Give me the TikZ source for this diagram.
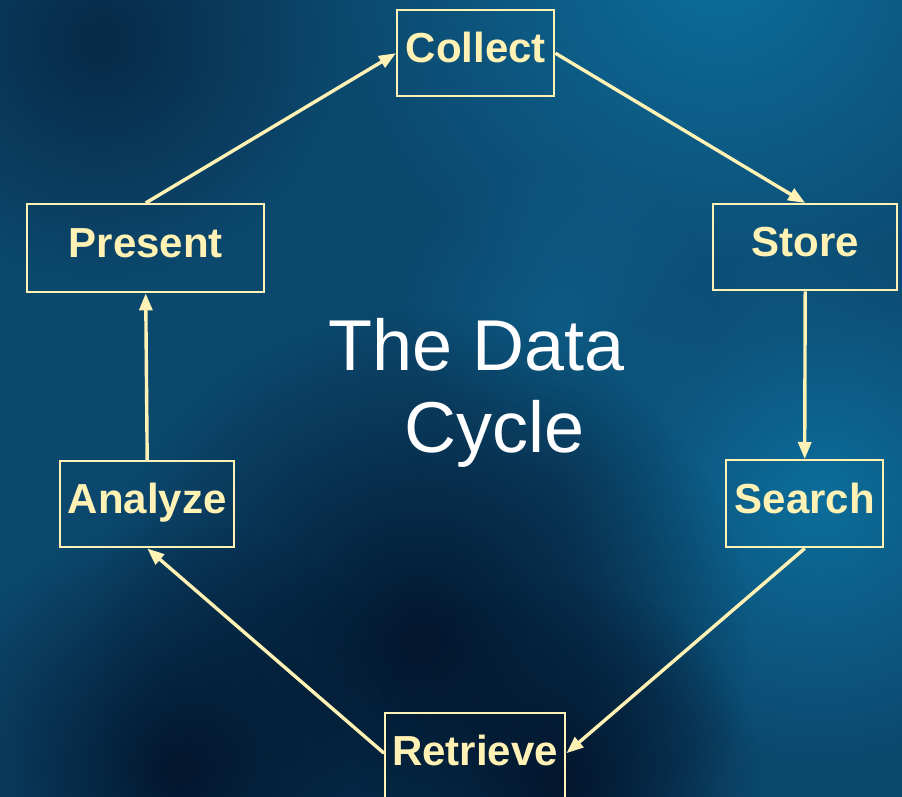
\documentclass[tikz,border=0pt]{standalone}
\usepackage{fontspec}
\setmainfont{Liberation Sans}
\usetikzlibrary{arrows.meta,fadings}
\definecolor{bgbase}{RGB}{12,72,110}
\definecolor{bgdark}{RGB}{3,22,45}
\definecolor{bglight}{RGB}{12,110,155}
\definecolor{boxline}{RGB}{255,242,180}
\tikzfading[name=softspot, inner color=transparent!0, outer color=transparent!100]
\tikzset{
  stage/.style={draw=boxline, line width=2.4pt, text=boxline, font=\bfseries\fontsize{42}{48}\selectfont, inner sep=0pt, anchor=north west, text height=31pt, text depth=12pt},
  flow/.style={draw=boxline, line width=3.4pt, -{Triangle[length=17pt,width=13pt]}}
}
\begin{document}
\begin{tikzpicture}[x=1pt,y=-1pt]
\useasboundingbox (0,0) rectangle (902,797);
\fill[bgbase] (0,0) rectangle (902,797);
\begin{scope}
\clip (0,0) rectangle (902,797);
\fill[bglight, path fading=softspot] (720,-40) circle (380);
\fill[bglight, path fading=softspot] (820,500) circle (260);
\fill[bglight, opacity=0.5, path fading=softspot] (560,320) circle (160);
\fill[bgdark, path fading=softspot] (420,640) circle (330);
\fill[bgdark, path fading=softspot] (180,770) circle (250);
\fill[bgdark, opacity=0.6, path fading=softspot] (100,40) circle (240);
\fill[bgdark, path fading=softspot] (560,780) circle (200);
\end{scope}
% stage boxes
\node[stage, minimum width=157pt, minimum height=86pt] (collect) at (396,9) {Collect};
\node[stage, minimum width=184pt, minimum height=86pt] (store) at (712,203) {Store};
\node[stage, minimum width=157pt, minimum height=87pt] (search) at (725,459) {Search};
\node[stage, minimum width=180pt, minimum height=90pt, text depth=16pt] (retrieve) at (384,712) {Retrieve};
\node[stage, minimum width=174pt, minimum height=86pt] (analyze) at (59,460) {Analyze};
\node[stage, minimum width=237pt, minimum height=88pt] (present) at (26,203) {Present};
% center title
\node[text=white, font=\fontsize{72}{82}\selectfont, align=center, inner sep=0pt] (title) at (477,393) {The Data\\\hspace*{0.5em}Cycle};
% connectors
\draw[flow] (present.north) -- (collect.west);
\draw[flow] (collect.east) -- (store.north);
\draw[flow] (store.south) -- (search.north);
\draw[flow] (search.south) -- ([yshift=5pt]retrieve.east);
\draw[flow] ([yshift=5pt]retrieve.west) -- (analyze.south);
\draw[flow] (analyze.north) -- (present.south);
\end{tikzpicture}
\end{document}
